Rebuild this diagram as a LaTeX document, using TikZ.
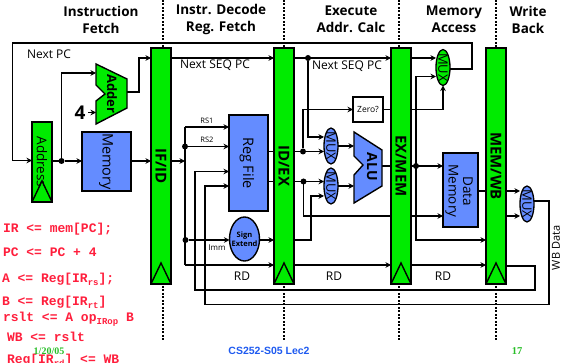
\documentclass[tikz,border=0pt]{standalone}
\usepackage{fontspec}
\setmainfont{Open Sans}
\newfontfamily\redmono{Liberation Mono}[Scale=1]
\newfontfamily\ftserif{Liberation Serif}
\newfontfamily\ftsans{Liberation Sans}
\usetikzlibrary{arrows.meta,shapes.geometric,backgrounds,calc}
\definecolor{pgreen}{RGB}{0,235,0}
\definecolor{pblue}{RGB}{100,140,255}
\definecolor{pred}{RGB}{255,30,60}
\definecolor{dategreen}{RGB}{40,190,40}
\definecolor{slideblue}{RGB}{30,90,240}
\newcommand{\subs}[1]{\raisebox{-3pt}{\fontsize{9}{9}\selectfont #1}}
\tikzset{
  x=1pt,y=-1pt,
  every node/.style={outer sep=0pt},
  wire/.style={line width=1.4pt,draw=black,line cap=butt},
  arr/.style={wire,-{Stealth[length=5.5pt,width=5.5pt]}},
  stage/.style={draw=black,line width=1.5pt,fill=pgreen,minimum width=20,minimum height=#1,inner sep=0},
  regname/.style={rotate=-90,font=\fontsize{15}{15}\selectfont\bfseries},
  clock/.style={draw=black,line width=1.4pt,fill=none},
  ublock/.style={draw=black,line width=1.5pt,fill=pblue,inner sep=0},
  blocktext/.style={rotate=-90,align=center,font=\fontsize{14.5}{15}\selectfont},
  muxo/.style={ellipse,draw=black,line width=1.3pt,fill=#1,minimum width=14,minimum height=36,inner sep=0,
     label={[rotate=-90,font=\fontsize{13}{13}\selectfont]center:MUX}},
  head/.style={align=center,font=\fontsize{13.5}{17}\selectfont\bfseries},
  small/.style={font=\fontsize{12}{12}\selectfont},
  tiny/.style={font=\fontsize{7.5}{7.5}\selectfont},
  dot/.style={circle,fill=black,minimum size=6,inner sep=0},
  phase/.style={line width=1.4pt,dash pattern=on 1.6pt off 1.9pt,draw=black},
  redcode/.style={anchor=base west,text=pred,inner sep=0,font=\fontsize{13}{13}\selectfont\redmono\bfseries},
}
\begin{document}
\begin{tikzpicture}
\useasboundingbox (0,0) rectangle (563,363);
% pipeline registers
\node[stage=236] (ifid) at (161,166) {};
\node[stage=236] (idex) at (284,166) {};
\node[stage=236] (exmem) at (401,166) {};
\node[stage=236] (memwb) at (496,166) {};
\node[stage=80] (addr) at (42,162) {};
\node[regname] at (161,166) {IF/ID};
\node[regname] at (284,166) {ID/EX};
\node[regname] at (401,166) {EX/MEM};
\node[regname] at (496,166) {MEM/WB};
\node[blocktext,font=\fontsize{13.5}{13.5}\selectfont] at (42,162) {Address};
\foreach \r in {ifid,idex,exmem,memwb,addr}
  \draw[clock] (\r.south west) -- ($(\r.south)+(0,-21)$) -- (\r.south east);
% blocks
\node[ublock,minimum width=49,minimum height=59] (mem) at (106.5,161.5) {};
\node[blocktext] at (106,161.5) {Memory};
\node[ublock,minimum width=39,minimum height=96] (regf) at (248.5,163) {};
\node[blocktext] at (247,163) {Reg File};
\node[ublock,minimum width=35,minimum height=74] (dmem) at (460.5,190) {};
\node[blocktext,font=\fontsize{13.5}{14.5}\selectfont] at (459,191) {Data\\Memory};
\node[draw=black,line width=1.4pt,fill=white,minimum width=30,minimum height=25,inner sep=0,font=\fontsize{8.5}{8.5}\selectfont] (zero) at (368,109.5) {Zero?};
\node[ellipse,draw=black,line width=1.4pt,fill=pblue,minimum width=30,minimum height=44,inner sep=0] (sign) at (244.5,239) {};
\node[align=center,font=\fontsize{7.5}{9}\selectfont\bfseries] at (244.5,239) {Sign\\Extend};
% adder and ALU
\draw[draw=black,line width=1.4pt,fill=pgreen] (96,64) -- (127,79) -- (127,108) -- (96,124) -- (96,101) -- (105,94) -- (96,85) -- cycle;
\node[blocktext,font=\fontsize{13}{13}\selectfont\bfseries] (adder) at (112,94) {Adder};
\coordinate (adderout) at (127,92);
\draw[draw=black,line width=1.4pt,fill=pblue] (354,132) -- (382,150) -- (382,186) -- (354,203) -- (354,175) -- (363,165) -- (354,156) -- cycle;
\node[blocktext,font=\fontsize{14}{14}\selectfont\bfseries] (alu) at (372,167) {ALU};
% muxes
\node[muxo=pblue] (mux1) at (331,146) {};
\node[muxo=pblue] (mux2) at (331,186) {};
\node[muxo=pgreen] (mux3) at (443,67.5) {};
\node[muxo=pblue] (mux4) at (527,204) {};
% junctions
\node[dot] (d1) at (61.5,161) {};
\node[dot] (d2) at (185,146.5) {};
\node[dot] (d3) at (185.5,240) {};
\node[dot] (d4) at (303,151.5) {};
\node[dot] (d5) at (303.5,181.5) {};
\node[dot] (d6) at (308,58) {};
\node[dot] (d7) at (416,166) {};
\coordinate (c4) at (88,112.5);
\node[font=\fontsize{19}{19}\selectfont\bfseries] (four) at (80,113) {4};
\begin{scope}[on background layer]
% feedback next PC
\draw[arr] (mux3.east |- 0,69) -- (472,69) -- (472,43) -- (12.5,43) -- (12.5,160.5) -- (addr.west |- 0,160.5);
\draw[wire] (addr.east |- d1) -- (d1);
\draw[arr] (d1) -- (mem.west |- d1);
\draw[arr] (d1) -- (61.5,73) -- (96,73);
\draw[arr] (c4) -- (96,112.5);
\draw[arr] (adderout) -- (139,92) -- (139,58) -- (ifid.west |- 0,58);
\draw[arr] (mem.east |- 0,161) -- (ifid.west |- 0,161);
\draw[arr] (ifid.east |- 0,58) -- (idex.west |- 0,58);
\draw[arr] (ifid.east |- 0,161) -- (185,161);
\draw[arr] (185,127) -- (regf.west |- 0,127);
\draw[arr] (d2) -- (regf.west |- d2);
\draw[wire] (185,127) -- (185,265);
\draw[arr] (d3) -- (sign.west |- d3);
\draw[arr] (185,265) -- (idex.west |- 0,265);
\draw[arr] (sign.east |- 0,240) -- (idex.west |- 0,240);
% write-back inputs
\draw[arr] (memwb.east |- 0,266) -- (535,266) -- (535,290) -- (195,290) -- (195,171.5) -- (regf.west |- 0,171.5);
\draw[arr] (mux4.east |- 0,201) -- (549,201) -- (549,304.5) -- (205,304.5) -- (205,186) -- (regf.west |- 0,186);
\draw[wire] (regf.east |- d4) -- (idex.west |- d4);
\draw[wire] (regf.east |- d5) -- (idex.west |- d5);
% execute
\draw[arr] (idex.east |- d4) -- (mux1.west |- d4);
\draw[arr] (idex.east |- d5) -- (mux2.west |- d5);
\draw[arr] (d4) -- (303,109.5) -- (zero.west);
\draw[arr] (d5) -- (303.5,216) -- (dmem.west |- 0,216);
\draw[arr] (idex.east |- d6) -- (exmem.west |- d6);
\draw[arr] (d6) -- (308,137) -- (mux1.west |- 0,137);
\draw[arr] (idex.east |- 0,240) -- (311,240) -- (311,196) -- (mux2.west |- 0,196);
\draw[arr] (mux1.east) -- (354,146);
\draw[arr] (mux2.east) -- (354,186);
\draw[wire] (382,166) -- (exmem.west |- 0,166);
\draw[wire] (zero.east) -- (exmem.west |- zero.east);
\draw[arr] (exmem.east |- d6) -- (mux3.west |- d6);
\draw[arr] (exmem.east |- 0,109.5) -- (443,109.5) -- (mux3.south);
\draw[arr] (exmem.east |- d7) -- (dmem.west |- d7);
\draw[arr] (416,76.5) -- (mux3.west |- 0,76.5);
\draw[arr] (416,76.5) -- (416,240) -- (memwb.west |- 0,240);
\draw[wire] (dmem.east |- 0,191) -- (memwb.west |- 0,191);
\draw[arr] (memwb.east |- 0,191) -- (mux4.west |- 0,191);
\draw[arr] (memwb.east |- 0,216) -- (mux4.west |- 0,216);
\draw[arr] (idex.east |- 0,265) -- (exmem.west |- 0,265);
\draw[arr] (exmem.east |- 0,265) -- (memwb.west |- 0,265);
% phase separators
\draw[phase] (163,0) -- (163,48);
\draw[phase] (284,0) -- (284,48);
\draw[phase] (399,0) -- (399,48);
\draw[phase] (496,0) -- (496,48);
\draw[phase] (163,286) -- (163,340);
\draw[phase] (284,286) -- (284,340);
\draw[phase] (399,286) -- (399,340);
\draw[phase] (496,286) -- (496,340);
\end{scope}
% headings
\node[head] at (101,19.5) {Instruction\\Fetch};
\node[head] at (221,19.5) {Instr. Decode\\Reg. Fetch};
\node[head] at (351,19.5) {Execute\\Addr. Calc};
\node[head] at (454,19.5) {Memory\\Access};
\node[head] at (528,19.5) {Write\\Back};
% labels
\node[small] at (49,54) {Next PC};
\node[small] at (215,65) {Next SEQ PC};
\node[small] at (347,66) {Next SEQ PC};
\node[tiny] at (207,121) {RS1};
\node[tiny] at (207,140) {RS2};
\node[font=\fontsize{8}{8}\selectfont] at (217,248) {Imm};
\node[small] at (242,276) {RD};
\node[small] at (334,276) {RD};
\node[small] at (443,276) {RD};
\node[font=\fontsize{11}{11}\selectfont,rotate=90] at (556,248) {WB Data};
% register transfer text
\node[redcode] at (3,232.5) {IR <= mem[PC];};
\node[redcode] at (3,256.5) {PC <= PC + 4};
\node[redcode] at (2,282.5) {A <= Reg[IR\subs{rs}];};
\node[redcode] at (2,305.5) {B <= Reg[IR\subs{rt}]};
\node[redcode] at (3,321.5) {rslt <= A op\subs{IRop} B};
\node[redcode] at (7,341.5) {WB <= rslt};
\node[redcode] at (7,363.5) {Reg[IR\subs{rd}] <= WB};
% footer
\node[text=dategreen,font=\fontsize{10}{10}\selectfont\ftserif\bfseries] at (49,351) {1/20/05};
\node[text=slideblue,font=\fontsize{10.5}{10.5}\selectfont\ftsans\bfseries] at (269,351) {CS252-S05 Lec2};
\node[text=dategreen,font=\fontsize{10.5}{10.5}\selectfont\ftserif\bfseries] at (517,351) {17};
\end{tikzpicture}
\end{document}
